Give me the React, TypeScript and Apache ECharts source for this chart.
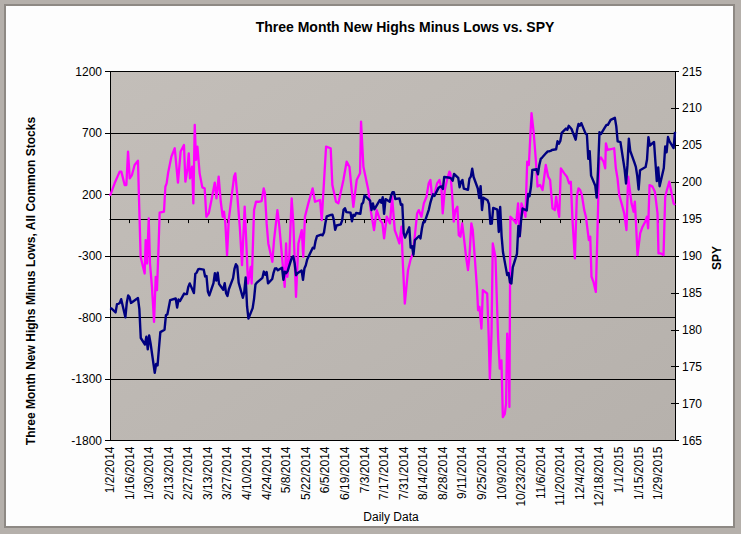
import React, { useEffect, useRef } from "react";
import * as echarts from "echarts";

const titleText = "Three Month New Highs Minus Lows vs. SPY";
const leftAxisName = "Three Month New Highs Minus Lows, All Common Stocks";
const rightAxisName = "SPY";
const xAxisName = "Daily Data";

const startDate = "1/2/2014";
const endDay = 404; // days after 1/2/2014 (2/10/2015)
const tickDays = 14;

const leftMin = -1800;
const leftMax = 1200;
const leftStep = 500;
const rightMin = 165;
const rightMax = 215;
const rightStep = 5;

// Three month new highs minus lows: [days after 1/2/2014, value]
const nhnl: [number, number][] = [
  [0, 188], [3.3, 291], [6.9, 386], [8.1, 386], [10.5, 277], [11.7, 277], [12.9, 549], [14.1, 331], [15.7, 358], [17.6, 440],
  [20.0, 475], [20.7, 182], [21.9, -306], [23.6, -388], [24.8, -442], [25.5, -171], [26.5, -361], [27.7, 5], [28.6, -361], [30.0, -551],
  [31.5, -836], [32.7, -470], [33.6, -578], [34.8, -198], [35.5, 52], [38.6, 60], [39.6, 263], [40.5, 291], [41.5, 372], [43.9, 508],
  [46.3, 576], [48.6, 296], [50.5, 549], [52.9, 603], [53.9, 304], [55.3, 399], [56.3, 535], [57.2, 331], [58.7, 426], [59.6, 128],
  [60.6, 766], [61.5, 481], [62.5, 589], [64.1, 372], [66.0, 258], [67.7, 250], [68.9, 19], [70.6, 46], [73.0, 182], [74.9, 296],
  [76.1, 169], [77.7, 345], [79.2, 141], [80.6, 19], [81.5, 60], [82.5, -35], [83.7, -293], [84.9, -8], [88.7, 345], [89.6, 372],
  [91.1, 182], [92.8, -62], [94.4, -374], [96.3, 101], [97.5, -198], [98.7, -524], [100.6, -388], [101.3, -524],
  [103.0, 73], [104.4, 141], [106.1, 141], [108.4, 147], [109.9, 250], [110.8, 209], [112.0, -35], [113.2, -198], [116.1, -347], [117.3, -171],
  [119.7, 73], [121.1, -62], [123.0, -306], [124.9, -551], [125.9, -198], [126.8, -470], [128.2, -306], [129.9, 168], [131.1, -35], [133.0, -632],
  [134.7, -198], [137.1, -89], [138.2, -306], [139.4, 19], [141.8, 128], [144.9, 250], [146.6, 141], [150.2, 155], [151.4, -8], [154.5, 589],
  [157.8, 576], [159.0, 277], [161.6, 141], [163.3, 128], [166.9, 318], [169.2, 467], [171.2, 426], [174.0, 100], [176.4, 318], [178.8, 372],
  [179.5, 793], [181.2, 426], [184.7, 236], [186.4, 73], [188.8, -89], [190.7, 73], [193.1, -8], [194.8, -35], [196.0, -157], [197.9, 19],
  [200.2, -35],
  [201.7, 182], [203.6, -89], [205.3, -143], [206.9, -198], [208.4, -62], [209.3, -334], [210.8, -687], [213.1, -415], [214.8, -334], [216.5, -280],
  [217.9, -143], [219.6, 46], [220.8, 73], [222.7, 19], [224.4, 128], [226.3, 182], [227.9, 291], [229.1, 318], [230.3, 182], [232.2, 209],
  [233.9, 291], [235.6, 318], [237.0, 250], [237.9, 46], [239.4, 236], [241.0, 318], [242.7, 386], [243.4, 372], [244.6, 209], [245.8, -21],
  [247.0, 73], [248.4, 100], [249.4, -130], [250.6, -143], [251.8, -35], [253.0, -143], [254.6, -306], [256.0, -415], [257.0, -306], [258.4, -35],
  [259.4, -89], [260.8, -306], [262.5, -578], [263.2, -741], [264.2, -714], [265.6, -890], [266.6, -578], [269.7, -605], [270.8, -958], [271.6, -1298],
  [272.8, -931], [273.7, -198], [275.6, -306], [277.5, -958], [278.7, -1216], [279.9, -1148], [280.9, -1610], [282.3, -1583], [283.2, -1501], [284.0, -931],
  [285.2, -1230], [285.6, -1528], [286.3, 19], [288.7, -8], [290.4, -35], [291.8, 128], [293.0, -143], [294.2, 128], [295.9, 73], [297.1, 19],
  [298.3, 467], [299.5, 440], [301.4, 861], [303.0, 698],
  [304.5, 480], [305.7, 264], [307.6, 277], [309.3, 236], [311.6, 440], [313.3, 345], [314.7, 318], [316.4, 87], [318.1, 73], [319.0, 182],
  [320.0, 100], [321.2, 19], [322.4, 413], [324.8, 372], [326.7, 345], [328.3, 291], [329.5, 304], [330.7, -8], [332.4, -320], [333.8, 182],
  [335.0, 250], [336.2, 236], [337.4, 196], [339.1, 73], [340.3, 19], [341.5, -89], [342.4, -171], [343.4, -143], [344.3, -469], [345.7, -510],
  [347.4, -592], [348.6, -89], [349.8, 481], [351.0, 502], [352.9, 467], [354.1, 413], [354.6, 616], [355.8, 562], [358.1, 568], [360.5, 576],
  [361.7, 413], [362.9, 331], [364.1, 196], [365.8, 128], [367.7, 46], [369.3, -89], [370.5, 345], [371.7, 236], [372.9, 128], [374.4, 60],
  [375.3, 141], [376.0, -8], [377.2, -293], [379.1, -117], [380.8, -62], [382.7, -21], [383.9, 19], [384.8, -75], [385.8, 277], [387.9, 264],
  [389.6, 223], [391.5, 46], [392.2, -279], [393.9, -279], [395.8, -293], [397.0, 182], [398.2, 236], [399.9, 304], [401.1, 236], [403.0, 128],
  [404.0, 114],
];

// SPY daily close: [date, close]
const spy: [string, number][] = [
  ["1/2/2014", 182.92], ["1/3/2014", 182.89], ["1/6/2014", 182.36], ["1/7/2014", 183.48], ["1/8/2014", 183.52], ["1/9/2014", 183.64], ["1/10/2014", 184.14],
  ["1/13/2014", 181.69], ["1/14/2014", 183.67], ["1/15/2014", 184.66], ["1/16/2014", 184.42], ["1/17/2014", 183.64], ["1/21/2014", 184.18], ["1/22/2014", 184.3],
  ["1/23/2014", 182.79], ["1/24/2014", 178.89], ["1/27/2014", 178.01], ["1/28/2014", 179.07], ["1/29/2014", 177.35], ["1/30/2014", 179.23], ["1/31/2014", 178.18],
  ["2/3/2014", 174.17], ["2/4/2014", 175.38], ["2/5/2014", 175.17], ["2/6/2014", 177.48], ["2/7/2014", 179.68], ["2/10/2014", 180.01], ["2/11/2014", 181.98],
  ["2/12/2014", 182.07], ["2/13/2014", 183.01], ["2/14/2014", 184.02], ["2/18/2014", 184.24], ["2/19/2014", 183.02], ["2/20/2014", 184.1], ["2/21/2014", 183.89],
  ["2/24/2014", 184.91], ["2/25/2014", 184.84], ["2/26/2014", 184.85], ["2/27/2014", 185.82], ["2/28/2014", 186.29],
  ["3/3/2014", 184.98], ["3/4/2014", 187.58], ["3/5/2014", 187.75], ["3/6/2014", 188.18], ["3/7/2014", 188.26], ["3/10/2014", 188.16], ["3/11/2014", 187.23],
  ["3/12/2014", 187.28], ["3/13/2014", 185.18], ["3/14/2014", 184.66], ["3/17/2014", 186.33], ["3/18/2014", 187.66], ["3/19/2014", 186.66], ["3/20/2014", 187.75],
  ["3/21/2014", 186.2], ["3/24/2014", 185.43], ["3/25/2014", 186.31], ["3/26/2014", 184.97], ["3/27/2014", 184.58], ["3/28/2014", 185.49], ["3/31/2014", 187.01],
  ["4/1/2014", 188.25], ["4/2/2014", 188.88], ["4/3/2014", 188.63], ["4/4/2014", 186.4], ["4/7/2014", 184.34], ["4/8/2014", 185.1], ["4/9/2014", 187.09],
  ["4/10/2014", 183.16], ["4/11/2014", 181.51], ["4/14/2014", 182.94], ["4/15/2014", 184.2], ["4/16/2014", 186.13], ["4/17/2014", 186.39], ["4/21/2014", 187.04],
  ["4/22/2014", 187.89], ["4/23/2014", 187.45], ["4/24/2014", 187.83], ["4/25/2014", 186.29], ["4/28/2014", 186.88], ["4/29/2014", 187.75], ["4/30/2014", 188.31],
  ["5/1/2014", 188.33], ["5/2/2014", 188.06], ["5/5/2014", 188.42], ["5/6/2014", 186.78], ["5/7/2014", 187.88], ["5/8/2014", 187.68], ["5/9/2014", 187.96],
  ["5/12/2014", 189.79], ["5/13/2014", 189.96], ["5/14/2014", 189.06], ["5/15/2014", 187.4], ["5/16/2014", 187.66], ["5/19/2014", 188.05], ["5/20/2014", 186.76],
  ["5/21/2014", 188.3], ["5/22/2014", 188.75], ["5/23/2014", 189.53], ["5/27/2014", 191.12], ["5/28/2014", 191.03], ["5/29/2014", 192.06], ["5/30/2014", 192.68],
  ["6/2/2014", 192.9], ["6/3/2014", 192.8], ["6/4/2014", 193.19], ["6/5/2014", 194.45], ["6/6/2014", 195.38], ["6/9/2014", 195.58], ["6/10/2014", 195.6],
  ["6/11/2014", 194.92], ["6/12/2014", 193.54], ["6/13/2014", 194.13], ["6/16/2014", 194.29], ["6/17/2014", 194.83], ["6/18/2014", 196.26], ["6/19/2014", 196.48],
  ["6/20/2014", 195.94], ["6/23/2014", 195.88], ["6/24/2014", 194.7], ["6/25/2014", 195.58], ["6/26/2014", 195.44], ["6/27/2014", 195.82], ["6/30/2014", 195.72],
  ["7/1/2014", 197.03], ["7/2/2014", 197.23], ["7/3/2014", 198.2], ["7/7/2014", 197.51], ["7/8/2014", 196.24], ["7/9/2014", 197.12], ["7/10/2014", 196.34],
  ["7/11/2014", 196.61], ["7/14/2014", 197.6], ["7/15/2014", 197.23], ["7/16/2014", 197.96], ["7/17/2014", 195.71], ["7/18/2014", 197.71], ["7/21/2014", 197.34],
  ["7/22/2014", 198.2], ["7/23/2014", 198.64], ["7/24/2014", 198.65], ["7/25/2014", 197.72], ["7/28/2014", 197.8], ["7/29/2014", 196.95], ["7/30/2014", 196.98],
  ["7/31/2014", 193.09],
  ["8/1/2014", 192.5], ["8/4/2014", 193.89], ["8/5/2014", 191.13], ["8/6/2014", 191.33], ["8/7/2014", 190.17], ["8/8/2014", 192.15], ["8/11/2014", 192.71],
  ["8/12/2014", 192.38], ["8/13/2014", 193.68], ["8/14/2014", 194.59], ["8/15/2014", 194.58], ["8/18/2014", 196.29], ["8/19/2014", 197.16], ["8/20/2014", 197.8],
  ["8/21/2014", 198.36], ["8/22/2014", 198.15], ["8/25/2014", 199.26], ["8/26/2014", 199.39], ["8/27/2014", 199.42], ["8/28/2014", 199.08], ["8/29/2014", 200.71],
  ["9/2/2014", 200.61], ["9/3/2014", 200.5], ["9/4/2014", 200.21], ["9/5/2014", 201.11], ["9/8/2014", 200.59], ["9/9/2014", 199.32], ["9/10/2014", 200.07],
  ["9/11/2014", 200.3], ["9/12/2014", 199.13], ["9/15/2014", 198.98], ["9/16/2014", 200.48], ["9/17/2014", 200.75], ["9/18/2014", 201.82], ["9/19/2014", 200.7],
  ["9/22/2014", 199.15], ["9/23/2014", 197.86], ["9/24/2014", 199.46], ["9/25/2014", 196.23], ["9/26/2014", 197.9], ["9/29/2014", 197.54], ["9/30/2014", 197.02],
  ["10/1/2014", 194.35], ["10/2/2014", 194.38], ["10/3/2014", 196.52], ["10/6/2014", 196.29], ["10/7/2014", 193.26], ["10/8/2014", 196.64], ["10/9/2014", 192.74],
  ["10/10/2014", 190.54], ["10/13/2014", 187.41], ["10/14/2014", 187.7], ["10/15/2014", 186.43], ["10/16/2014", 186.27], ["10/17/2014", 188.47], ["10/20/2014", 190.3],
  ["10/21/2014", 194.07], ["10/22/2014", 192.69], ["10/23/2014", 194.93], ["10/24/2014", 196.43], ["10/27/2014", 196.16], ["10/28/2014", 198.41], ["10/29/2014", 198.11],
  ["10/30/2014", 199.38], ["10/31/2014", 201.66],
  ["11/3/2014", 201.77], ["11/4/2014", 201.07], ["11/5/2014", 202.34], ["11/6/2014", 203.15], ["11/7/2014", 203.34], ["11/10/2014", 203.98], ["11/11/2014", 204.18],
  ["11/12/2014", 204.19], ["11/13/2014", 204.24], ["11/14/2014", 204.37], ["11/17/2014", 204.46], ["11/18/2014", 205.55], ["11/19/2014", 205.22], ["11/20/2014", 205.58],
  ["11/21/2014", 206.68], ["11/24/2014", 207.26], ["11/25/2014", 207.11], ["11/26/2014", 207.64], ["11/28/2014", 207.2],
  ["12/1/2014", 205.76], ["12/2/2014", 207.09], ["12/3/2014", 207.89], ["12/4/2014", 207.66], ["12/5/2014", 208.0], ["12/8/2014", 206.61], ["12/9/2014", 206.47],
  ["12/10/2014", 203.16], ["12/11/2014", 204.19], ["12/12/2014", 200.89], ["12/15/2014", 199.51], ["12/16/2014", 197.91], ["12/17/2014", 201.79], ["12/18/2014", 206.78],
  ["12/19/2014", 206.52], ["12/22/2014", 207.47], ["12/23/2014", 207.75], ["12/24/2014", 207.77], ["12/26/2014", 208.44], ["12/29/2014", 208.72], ["12/30/2014", 207.6],
  ["12/31/2014", 205.54],
  ["1/2/2015", 205.43], ["1/5/2015", 201.72], ["1/6/2015", 199.82], ["1/7/2015", 202.31], ["1/8/2015", 205.9], ["1/9/2015", 204.25], ["1/12/2015", 202.65],
  ["1/13/2015", 202.08], ["1/14/2015", 200.86], ["1/15/2015", 199.02], ["1/16/2015", 201.63], ["1/20/2015", 202.06], ["1/21/2015", 203.08], ["1/22/2015", 206.1],
  ["1/23/2015", 204.97], ["1/26/2015", 205.45], ["1/27/2015", 202.74], ["1/28/2015", 200.14], ["1/29/2015", 201.99], ["1/30/2015", 199.45],
  ["2/2/2015", 201.92], ["2/3/2015", 204.84], ["2/4/2015", 204.06], ["2/5/2015", 206.12], ["2/6/2015", 205.55], ["2/9/2015", 204.63], ["2/10/2015", 206.81],
];

const FONT = '"Liberation Sans", Arial, sans-serif';
const DAY_MS = 86400000;

function parseMDY(s: string): number {
  const [m, d, y] = s.split("/").map(Number);
  return Date.UTC(y, m - 1, d);
}
const t0 = parseMDY(startDate);
function dayOf(s: string): number {
  return Math.round((parseMDY(s) - t0) / DAY_MS);
}
function labelOf(day: number): string {
  const dt = new Date(t0 + Math.round(day) * DAY_MS);
  return `${dt.getUTCMonth() + 1}/${dt.getUTCDate()}/${dt.getUTCFullYear()}`;
}

export default function App() {
  const ref = useRef<HTMLDivElement>(null);

  useEffect(() => {
    if (!ref.current) return;
    const chart = echarts.init(ref.current, undefined, { renderer: "svg" });

    const spyData = spy.map(([d, v]) => [dayOf(d), v]);

    const option: any = {
      animation: false,
      backgroundColor: "transparent",
      textStyle: { fontFamily: FONT },
      grid: {
        left: 110,
        right: 66,
        top: 71.5,
        bottom: 93.5,
        show: true,
        borderWidth: 0,
        backgroundColor: new echarts.graphic.LinearGradient(0, 0, 1, 1, [
          { offset: 0, color: "#c3beb9" },
          { offset: 1, color: "#b6b1ac" },
        ]),
      },
      xAxis: [
        {
          type: "value",
          min: 0,
          max: endDay,
          interval: tickDays,
          position: "bottom",
          axisLine: { show: false, onZero: false },
          axisTick: { show: false },
          splitLine: { show: false },
          axisLabel: {
            rotate: 90,
            fontSize: 12,
            fontFamily: FONT,
            color: "#000",
            margin: 6,
            showMaxLabel: false,
            formatter: (v: number) => labelOf(v),
          },
        },
        {
          type: "value",
          min: 0,
          max: endDay,
          interval: tickDays,
          position: "bottom",
          axisLine: { show: true, onZero: true, onZeroAxisIndex: 0, lineStyle: { color: "#000", width: 1 } },
          axisTick: { show: true, inside: false, length: 4, lineStyle: { color: "#000", width: 1 } },
          axisLabel: { show: false },
          splitLine: { show: false },
        },
      ],
      yAxis: [
        {
          type: "value",
          min: leftMin,
          max: leftMax,
          interval: leftStep,
          position: "left",
          axisLine: { show: true, onZero: false, lineStyle: { color: "#000", width: 1 } },
          axisTick: { show: true, length: 5, lineStyle: { color: "#000" } },
          axisLabel: { fontSize: 12, fontFamily: FONT, color: "#000", margin: 8, formatter: (v: number) => String(v) },
          splitLine: { show: true, lineStyle: { color: "#000", width: 1 } },
        },
        {
          type: "value",
          min: rightMin,
          max: rightMax,
          interval: rightStep,
          position: "right",
          axisLine: { show: true, onZero: false, lineStyle: { color: "#000", width: 1 } },
          axisTick: { show: true, length: 4, lineStyle: { color: "#000" } },
          axisLabel: { fontSize: 12, fontFamily: FONT, color: "#000", margin: 7, formatter: (v: number) => String(v) },
          splitLine: { show: false },
        },
        {
          type: "value",
          min: rightMin,
          max: rightMax,
          interval: rightStep,
          position: "right",
          axisLine: { show: false, onZero: false },
          axisTick: { show: true, inside: true, length: 4, lineStyle: { color: "#000" } },
          axisLabel: { show: false },
          splitLine: { show: false },
        },
      ],
      series: [
        {
          name: "New Highs Minus Lows",
          type: "line",
          xAxisIndex: 0,
          yAxisIndex: 0,
          data: nhnl,
          symbol: "none",
          lineStyle: { color: "#ff00ff", width: 2.3, join: "round" },
          z: 3,
        },
        {
          name: "SPY",
          type: "line",
          xAxisIndex: 0,
          yAxisIndex: 1,
          data: spyData,
          symbol: "none",
          lineStyle: { color: "#000080", width: 2.4, join: "round" },
          z: 4,
        },
      ],
      graphic: [
        {
          type: "text",
          x: 405,
          y: 27,
          style: { text: titleText, font: `bold 14px ${FONT}`, fill: "#000", align: "center", verticalAlign: "middle" },
        },
        {
          type: "text",
          x: 31,
          y: 281,
          rotation: Math.PI / 2,
          style: { text: leftAxisName, font: `bold 12px ${FONT}`, fill: "#000", align: "center", verticalAlign: "middle" },
        },
        {
          type: "text",
          x: 717,
          y: 258,
          rotation: Math.PI / 2,
          style: { text: rightAxisName, font: `bold 12px ${FONT}`, fill: "#000", align: "center", verticalAlign: "middle" },
        },
        {
          type: "text",
          x: 391,
          y: 517,
          style: { text: xAxisName, font: `12px ${FONT}`, fill: "#000", align: "center", verticalAlign: "middle" },
        },
      ],
    };

    chart.setOption(option);
    return () => chart.dispose();
  }, []);

  return (
    <div style={{ position: "absolute", left: 0, top: 0, width: 741, height: 534 }}>
      <div
        style={{
          position: "absolute",
          left: 0,
          top: 0,
          width: 741,
          height: 534,
          boxSizing: "border-box",
          borderStyle: "solid",
          borderColor: "#b5b0ab",
          borderWidth: "4px 6px 6px 4px",
          boxShadow: "inset 0 0 0 2px #8e8984",
          background: "#fdfdfd",
        }}
      />
      <div ref={ref} style={{ position: "absolute", left: 0, top: 0, width: 741, height: 534 }} />
    </div>
  );
}
